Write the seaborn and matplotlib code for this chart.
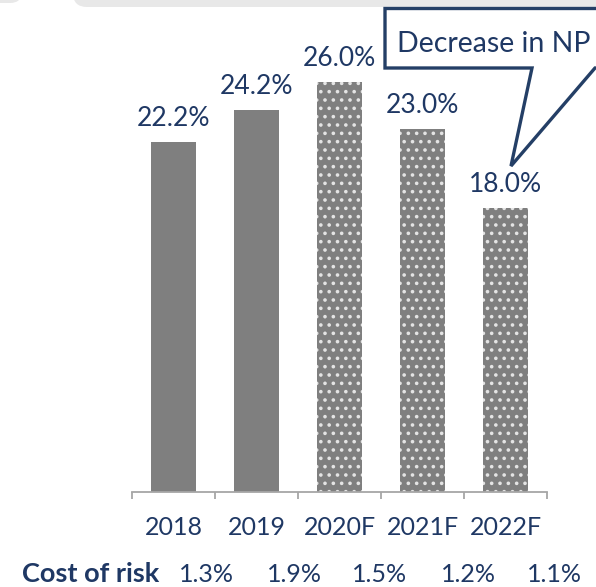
import matplotlib
matplotlib.use("Agg")
import matplotlib.pyplot as plt
import seaborn as sns
import pandas as pd
import numpy as np
from matplotlib.patches import Polygon, FancyBboxPatch
from matplotlib.transforms import Affine2D

# --- data -------------------------------------------------------------
years = ["2018", "2019", "2020F", "2021F", "2022F"]
roe = [22.2, 24.2, 26.0, 23.0, 18.0]
is_forecast = [False, False, True, True, True]
cost_of_risk = [1.3, 1.9, 1.5, 1.2, 1.1]
row_title = "Cost of risk"
callout_text = "Decrease in NP"

# --- style ------------------------------------------------------------
W, H = 596, 587
NAVY = "#1F3864"
BAR = "#7F7F7F"
AXIS = "#A6A6A6"

sns.set_theme(style="white")
plt.rcParams["font.family"] = ["Lato", "DejaVu Sans"]
plt.rcParams["hatch.linewidth"] = 1.4

fig = plt.figure(figsize=(W / 100, H / 100), dpi=100)
# pixel coordinates measured from the top-left corner of the figure
px = Affine2D().scale(1 / W, -1 / H).translate(0, 1) + fig.transFigure

ax = fig.add_axes([132 / W, 1 - 492 / H, 415 / W, 492 / H])
ax.set_facecolor("none")

df = pd.DataFrame({"year": years, "roe": roe})
sns.barplot(data=df, x="year", y="roe", color=BAR, saturation=1,
            width=0.55, linewidth=0, ax=ax)

for patch, fc in zip(ax.patches, is_forecast):
    if fc:
        patch.set_hatch("..")
        patch.set_edgecolor("#E4E4E4")
        patch.set_linewidth(0)

for i, v in enumerate(roe):
    ax.annotate(f"{v:.1f}%", (i, v), xytext=(0, 8), textcoords="offset points",
                ha="center", va="bottom", fontsize=19, color=NAVY)

ax.set_xlim(-0.5, 4.5)
ax.set_ylim(0, 31.2)
ax.set_xlabel("")
ax.set_ylabel("")
ax.set_yticks([])
ax.set_xticks(range(len(years)))
ax.set_xticklabels(years)
ax.set_xticks(np.arange(-0.5, len(years)), minor=True)
ax.tick_params(axis="x", which="major", length=0, pad=17, labelsize=18,
               labelcolor=NAVY)
ax.tick_params(axis="x", which="minor", length=5, width=1.3, color=AXIS,
               direction="out", bottom=True)
for side in ("top", "left", "right"):
    ax.spines[side].set_visible(False)
ax.spines["bottom"].set_color(AXIS)
ax.spines["bottom"].set_linewidth(1.3)

# cost-of-risk row beneath the year labels
fig.text(22, 574, row_title, transform=px, ha="left", va="center",
         fontsize=19.5, fontweight="bold", color=NAVY)
for x, v in zip([206, 294, 380, 468, 554], cost_of_risk):
    fig.text(x, 574, f"{v:.1f}%", transform=px, ha="center", va="center",
             fontsize=18, color=NAVY)

# light page frame pieces along the top edge
fig.add_artist(FancyBboxPatch((-40, -30), 62, 33,
                              boxstyle="round,pad=0,rounding_size=12",
                              transform=px, fc="#E8E8E8", ec="none", zorder=1))
fig.add_artist(FancyBboxPatch((73, -30), 600, 37,
                              boxstyle="round,pad=0,rounding_size=14",
                              transform=px, fc="#E8E8E8", ec="none", zorder=1))

# speech-bubble callout
bubble = Polygon([(385, 8.5), (640, 8.5), (640, 68), (595, 68), (511, 166),
                  (532, 68), (385, 68)], closed=True, transform=px,
                 fc="white", ec="#243F66", lw=2.4, joinstyle="miter", zorder=5)
fig.add_artist(bubble)
fig.text(397, 44, callout_text, transform=px, ha="left", va="center",
         fontsize=20.5, color=NAVY, zorder=6)

fig.savefig("out.png", dpi=100)
